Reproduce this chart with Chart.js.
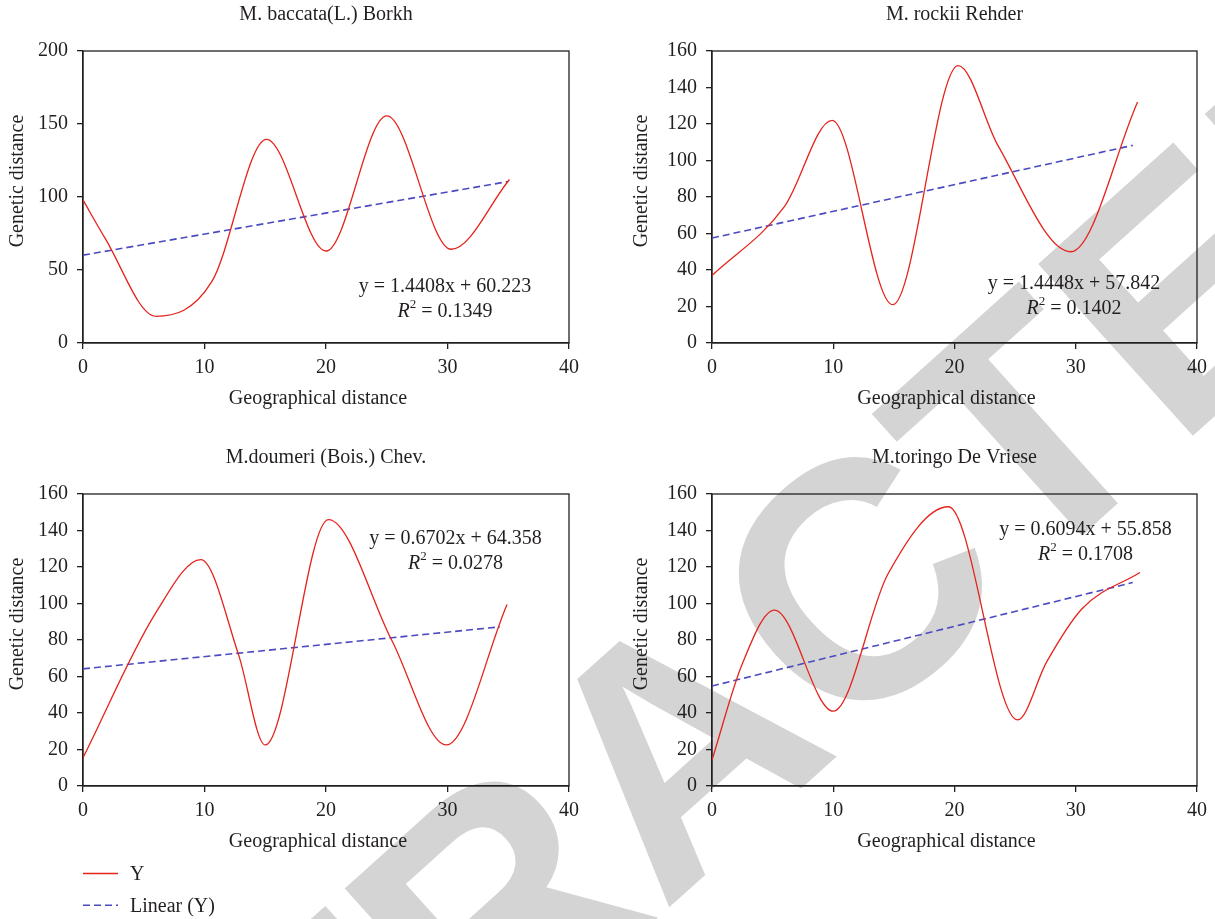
<!DOCTYPE html>
<html>
<head>
<meta charset="utf-8">
<script src="https://cdn.jsdelivr.net/npm/chart.js@4.4.1/dist/chart.umd.min.js"></script>
<style>
  body { margin: 0; background: #fff; width: 1215px; height: 919px; overflow: hidden; position: relative; }
  canvas { position: absolute; }
</style>
</head>
<body>
<canvas id="wm" width="1215" height="919" style="left:0;top:0"></canvas>
<canvas id="c1" width="607" height="430" style="left:0;top:0"></canvas>
<canvas id="c2" width="608" height="430" style="left:607px;top:0"></canvas>
<canvas id="c3" width="607" height="489" style="left:0;top:430px"></canvas>
<canvas id="c4" width="608" height="489" style="left:607px;top:430px"></canvas>
<script>
// --- data ---
const titles = ["M. baccata(L.) Borkh", "M. rockii Rehder", "M.doumeri (Bois.) Chev.", "M.toringo De Vriese"];
const xTitle = "Geographical distance";
const yTitle = "Genetic distance";
const yMaxes = [200, 160, 160, 160];
const ySteps = [50, 20, 20, 20];

const curveX = [
  [0, 1.8, 6, 10.6, 15.1, 20, 25, 30.3, 35.1],
  [0, 6, 9.9, 14.9, 20.3, 23.6, 29.6, 35.1],
  [0, 6, 9.7, 12.8, 15, 20.2, 25.4, 29.9, 34.9],
  [0, 2.5, 5.15, 10, 14.5, 19.5, 25.2, 27.6, 30.5, 35.3]
];
const curveY = [
  [98, 72, 18.3, 42, 139.5, 63, 155.5, 64.2, 112],
  [37, 75, 122, 21, 152, 108, 50, 132],
  [15.5, 95, 124, 72, 22.5, 146, 80, 22.5, 99.5],
  [14.2, 67, 96.4, 41, 116, 153, 36.2, 68, 97, 117]
];
const trendX = [[0, 35], [0, 34.7], [0, 34.3], [0, 34.7]];
const trendY = [[60.2, 110.6], [57.5, 108.3], [64.2, 87.2], [54.8, 111.5]];

const equations = ["y = 1.4408x + 60.223", "y = 1.4448x + 57.842", "y = 0.6702x + 64.358", "y = 0.6094x + 55.858"];
const rSquared = ["0.1349", "0.1402", "0.0278", "0.1708"];

// --- look ---
const serif = '"Liberation Serif", "DejaVu Serif", serif';
const ink = '#231f20';
const red = '#e5231b';
const blue = '#4a4ac2';

// per panel box sizes so the plot areas line up with the figure
const panels = [
  { id: 'c1', yW: 83, padR: 38, xH: 87, tPad: [3, 24], yPos: 17.7, eq: { x: 29.8, y: 38.4 } },
  { id: 'c2', yW: 105, padR: 18, xH: 87, tPad: [3, 24], yPos: 34.6, eq: { x: 29.85, y: 32.3 } },
  { id: 'c3', yW: 83, padR: 38, xH: 133, tPad: [16, 24], yPos: 17.7, eq: { x: 30.66, y: 135.3 } },
  { id: 'c4', yW: 105, padR: 18, xH: 133, tPad: [16, 24], yPos: 34.6, eq: { x: 30.8, y: 140.3 } }
];

// watermark behind the charts
(function () {
  const ctx = document.getElementById('wm').getContext('2d');
  const size = 336;
  ctx.font = `bold ${size}px "Liberation Sans", Arial, sans-serif`;
  ctx.fillStyle = '#d4d4d4';
  const pre = ctx.measureText('RETRA').width;
  const cW = ctx.measureText('C').width;
  ctx.translate(853, 580);
  ctx.rotate(-42 * Math.PI / 180);
  ctx.fillText('RETRACTED', -(pre + cW / 2), 0.716 * size / 2);
})();

const framePlugin = {
  id: 'frame',
  beforeDatasetsDraw(chart) {
    const { ctx, chartArea: a } = chart;
    ctx.save();
    ctx.strokeStyle = ink;
    ctx.lineWidth = 1.3;
    ctx.strokeRect(a.left, a.top, a.right - a.left, a.bottom - a.top);
    ctx.restore();
  }
};

const equationPlugin = {
  id: 'equation',
  afterDatasetsDraw(chart, args, opts) {
    const { ctx, scales } = chart;
    const cx = scales.x.getPixelForValue(opts.x);
    const cy = scales.y.getPixelForValue(opts.y);
    ctx.save();
    ctx.fillStyle = ink;
    ctx.textBaseline = 'middle';
    ctx.textAlign = 'center';
    ctx.font = `20px ${serif}`;
    ctx.fillText(opts.text, cx, cy);

    const y2 = cy + 24.5;
    const rest = ' = ' + opts.r2;
    ctx.textAlign = 'left';
    ctx.font = `italic 20px ${serif}`;
    const wR = ctx.measureText('R').width;
    ctx.font = `13px ${serif}`;
    const wS = ctx.measureText('2').width;
    ctx.font = `20px ${serif}`;
    const wN = ctx.measureText(rest).width;
    let x = cx - (wR + wS + wN) / 2;
    ctx.font = `italic 20px ${serif}`;
    ctx.fillText('R', x, y2);
    x += wR;
    ctx.font = `13px ${serif}`;
    ctx.fillText('2', x, y2 - 7);
    x += wS;
    ctx.font = `20px ${serif}`;
    ctx.fillText(rest, x, y2);
    ctx.restore();
  }
};

const axisTitlePlugin = {
  id: 'axisTitles',
  afterDraw(chart, args, opts) {
    const { ctx, chartArea: a } = chart;
    ctx.save();
    ctx.fillStyle = ink;
    ctx.font = `20px ${serif}`;
    ctx.textAlign = 'center';
    ctx.textBaseline = 'middle';
    ctx.fillText(xTitle, (a.left + a.right) / 2 - 8, a.bottom + 56);
    ctx.translate(opts.yPos, (a.top + a.bottom) / 2 - 16);
    ctx.rotate(-Math.PI / 2);
    ctx.fillText(yTitle, 0, 0);
    ctx.restore();
  }
};

// legend sits under the bottom-left panel
const legendPlugin = {
  id: 'stackLegend',
  afterDraw(chart) {
    const { ctx } = chart;
    ctx.save();
    ctx.font = `20px ${serif}`;
    ctx.fillStyle = ink;
    ctx.textBaseline = 'middle';
    chart.data.datasets.forEach((ds, i) => {
      const y = 443.5 + i * 31.7;
      ctx.strokeStyle = ds.borderColor;
      ctx.lineWidth = ds.borderWidth;
      ctx.setLineDash(ds.borderDash || []);
      ctx.beginPath();
      ctx.moveTo(83, y);
      ctx.lineTo(118, y);
      ctx.stroke();
      ctx.setLineDash([]);
      ctx.fillText(ds.label, 130, y + 1.5);
    });
    ctx.restore();
  }
};

panels.forEach((p, i) => {
  const tickFont = { family: serif, size: 20 };
  const grid = { drawOnChartArea: false, drawTicks: true, tickLength: 6, color: ink, tickColor: ink, lineWidth: 1.3 };
  const border = { color: ink, width: 1.3 };
  const plugins = [framePlugin, equationPlugin, axisTitlePlugin];
  if (i === 2) plugins.push(legendPlugin);

  new Chart(document.getElementById(p.id), {
    type: 'scatter',
    data: {
      datasets: [
        {
          label: 'Y',
          data: curveX[i].map((x, k) => ({ x, y: curveY[i][k] })),
          showLine: true,
          borderColor: red,
          borderWidth: 1.3,
          pointRadius: 0,
          cubicInterpolationMode: 'monotone'
        },
        {
          label: 'Linear (Y)',
          data: trendX[i].map((x, k) => ({ x, y: trendY[i][k] })),
          showLine: true,
          borderColor: blue,
          borderWidth: 1.6,
          borderDash: [7, 4],
          pointRadius: 0
        }
      ]
    },
    options: {
      responsive: false,
      animation: false,
      layout: { padding: { right: p.padR } },
      plugins: {
        legend: { display: false },
        tooltip: { enabled: false },
        title: {
          display: true,
          text: titles[i],
          fullSize: false,
          color: ink,
          font: { family: serif, size: 20, weight: 'normal' },
          padding: { top: p.tPad[0], bottom: p.tPad[1] }
        },
        equation: { x: p.eq.x, y: p.eq.y, text: equations[i], r2: rSquared[i] },
        axisTitles: { yPos: p.yPos }
      },
      scales: {
        x: {
          type: 'linear',
          min: 0,
          max: 40,
          ticks: { stepSize: 10, padding: 7, color: ink, font: tickFont, maxRotation: 0 },
          grid, border,
          afterFit: s => { s.height = p.xH; }
        },
        y: {
          type: 'linear',
          min: 0,
          max: yMaxes[i],
          ticks: { stepSize: ySteps[i], padding: 9, color: ink, font: tickFont },
          grid, border,
          afterFit: s => { s.width = p.yW; }
        }
      }
    },
    plugins
  });
});
</script>
</body>
</html>
